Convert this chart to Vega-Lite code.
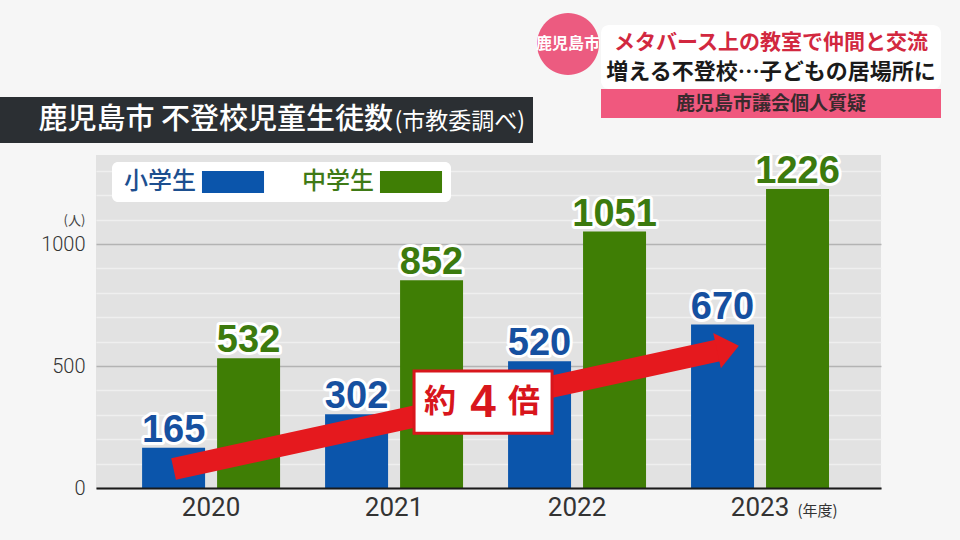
{
  "$schema": "https://vega.github.io/schema/vega-lite/v6.json",
  "background": "#f6f6f6",
  "padding": {"left": 0, "top": 13, "right": 23, "bottom": 22},
  "config": {
    "view": {"stroke": null},
    "font": "Noto Sans CJK JP"
  },
  "spacing": 6,
  "vconcat": [
    {
      "spacing": 2,
      "hconcat": [
        {
          "spacing": 0,
          "vconcat": [
            {"width": 533, "height": 84, "view": {"fill": "#f6f6f6"}, "data": {"values": [{"t": ""}]}, "mark": {"type": "text"}, "encoding": {"text": {"field": "t", "type": "nominal"}}},
            {
              "width": 533, "height": 46, "view": {"fill": "#2b2f33"},
              "data": {"values": [{"main": "鹿児島市 不登校児童生徒数", "sub": "(市教委調べ)"}]},
              "layer": [
                {"mark": {"type": "text", "align": "left", "baseline": "middle", "dx": -228, "fontSize": 29, "fontWeight": 500, "color": "#ffffff"}, "encoding": {"text": {"field": "main", "type": "nominal"}}},
                {"mark": {"type": "text", "align": "left", "baseline": "middle", "dx": 128, "dy": 2, "fontSize": 23, "color": "#ffffff"}, "encoding": {"text": {"field": "sub", "type": "nominal"}}}
              ]
            }
          ]
        },
        {
          "spacing": 0,
          "hconcat": [
            {"width": 62, "height": 62, "view": {"fill": "#ec5b80", "cornerRadius": 31}, "data": {"values": [{"t": "鹿児島市"}]}, "mark": {"type": "text", "fontSize": 16, "fontWeight": "bold", "color": "#ffffff"}, "encoding": {"text": {"field": "t", "type": "nominal"}}},
            {
              "spacing": 0,
              "vconcat": [
                {"width": 340, "height": 12, "view": {"fill": "#f6f6f6"}, "data": {"values": [{"t": ""}]}, "mark": {"type": "text"}, "encoding": {"text": {"field": "t", "type": "nominal"}}},
                {
                  "width": 340, "height": 64, "view": {"fill": "#ffffff", "cornerRadius": 8},
                  "data": {"values": [{"a": "メタバース上の教室で仲間と交流", "b": "増える不登校…子どもの居場所に"}]},
                  "layer": [
                    {"mark": {"type": "text", "baseline": "middle", "dy": -14, "fontSize": 21, "fontWeight": "bold", "color": "#d2283f"}, "encoding": {"text": {"field": "a", "type": "nominal"}}},
                    {"mark": {"type": "text", "baseline": "middle", "dy": 15, "fontSize": 22, "fontWeight": "bold", "color": "#1a1a1a"}, "encoding": {"text": {"field": "b", "type": "nominal"}}}
                  ]
                },
                {"width": 340, "height": 29, "view": {"fill": "#f0587e"}, "data": {"values": [{"t": "鹿児島市議会個人質疑"}]}, "mark": {"type": "text", "baseline": "middle", "fontSize": 19, "fontWeight": "bold", "color": "#3a2a2e"}, "encoding": {"text": {"field": "t", "type": "nominal"}}}
              ]
            }
          ]
        }
      ]
    },
    {
      "spacing": 0,
      "hconcat": [
        {"width": 1, "height": 1, "view": {"fill": "#f6f6f6"}, "data": {"values": [{"t": ""}]}, "mark": {"type": "text"}, "encoding": {"text": {"field": "t", "type": "nominal"}}},
        {
          "width": 785,
          "height": 333,
          "view": {"fill": "#e2e2e2"},
          "encoding": {
            "x": {
              "field": "year", "type": "nominal", "title": "(年度)",
              "scale": {"paddingInner": 0.246, "paddingOuter": 0.268, "align": 0.47},
              "axis": {
                "title": "(年度)", "titleX": 701, "titleY": 22, "titleAlign": "left", "titleBaseline": "middle",
                "titleFontSize": 15, "titleFontWeight": "normal", "titleColor": "#333333",
                "labelAngle": 0, "labelFont": "Roboto", "labelFontSize": 26, "labelColor": "#333333", "labelPadding": 6,
                "ticks": false, "domainColor": "#1a1a1a", "domainWidth": 2, "zindex": 1
              }
            },
            "y": {
              "field": "value", "type": "quantitative", "title": "(人)",
              "scale": {"domain": [0, 1365], "nice": false},
              "axis": {
                "title": "(人)", "titleAngle": 0, "titleX": -22, "titleY": 65, "titleAlign": "center", "titleBaseline": "middle",
                "titleFontSize": 13, "titleFontWeight": "normal", "titleColor": "#444444",
                "values": [0, 100, 200, 300, 400, 500, 600, 700, 800, 900, 1000, 1100, 1200, 1300],
                "format": "d",
                "labelExpr": "datum.value % 500 === 0 ? datum.label : ''",
                "labelFont": "Roboto", "labelFontSize": 20, "labelFontWeight": 300, "labelColor": "#333333", "labelPadding": 11,
                "ticks": false, "domain": false, "grid": true,
                "gridColor": {"condition": {"test": "datum.value % 500 === 0", "value": "#b3b3b3"}, "value": "#efefef"},
                "gridWidth": 1.5,
                "minExtent": 95, "maxExtent": 95
              }
            }
          },
          "layer": [
            {
              "data": {"values": [
                {"year": "2020", "level": "小学生", "value": 165},
                {"year": "2020", "level": "中学生", "value": 532},
                {"year": "2021", "level": "小学生", "value": 302},
                {"year": "2021", "level": "中学生", "value": 852},
                {"year": "2022", "level": "小学生", "value": 520},
                {"year": "2022", "level": "中学生", "value": 1051},
                {"year": "2023", "level": "小学生", "value": 670},
                {"year": "2023", "level": "中学生", "value": 1226}
              ], "name": "main"},
              "mark": {"type": "bar"},
              "encoding": {
                "xOffset": {"field": "level", "type": "nominal", "sort": ["小学生", "中学生"], "scale": {"paddingInner": 0.16, "paddingOuter": 0}},
                "color": {
                  "field": "level", "type": "nominal",
                  "scale": {"domain": ["小学生", "中学生"], "range": ["#0b55ab", "#3f7e05"]},
                  "legend": {
                    "orient": "none", "legendX": 112, "legendY": 149, "direction": "horizontal", "title": null,
                    "fillColor": "#ffffff", "cornerRadius": 6, "padding": 8,
                    "labelFont": "Noto Sans CJK JP", "labelFontSize": 24, "labelFontWeight": 500, "labelLimit": 200,
                    "symbolType": "M-2.82,-1H2.82V1H-2.82Z", "symbolSize": 484, "symbolOffset": 101, "labelOffset": -121,
                    "columnPadding": 33, "symbolStrokeWidth": 0, "symbolOpacity": 1,
                    "encode": {"labels": {"update": {"fill": {"signal": "datum.value === '小学生' ? '#1d4f8f' : '#3f7a16'"}}}}
                  }
                }
              }
            },
            {
              "data": {"values": [{"year": "2020", "value": 78}, {"year": "2023", "value": 568}]},
              "mark": {"type": "line", "strokeWidth": 22, "color": "#e5191e", "strokeCap": "butt"},
              "encoding": {"x": {"field": "year", "type": "nominal", "title": "(年度)", "bandPosition": 0.228}}
            },
            {
              "data": {"values": [{"year": "2023", "value": 568}]},
              "mark": {"type": "point", "shape": "M-0.31,-1L0.93,0L-0.31,1Z", "size": 1296, "angle": -12.35, "filled": true, "color": "#e5191e", "opacity": 1},
              "encoding": {"x": {"field": "year", "type": "nominal", "title": "(年度)", "bandPosition": 0.228}}
            },
            {
              "data": {"values": [{"year": "2021", "value": 352, "a": "約", "b": "4", "c": "倍"}]},
              "encoding": {"x": {"field": "year", "type": "nominal", "title": "(年度)", "bandPosition": 1.145}},
              "layer": [
                {"mark": {"type": "point", "shape": "M-1,-0.45H1V0.45H-1Z", "size": 19044, "fill": "#ffffff", "stroke": "#d8161c", "strokeWidth": 3, "opacity": 1}},
                {"mark": {"type": "text", "dx": -43, "baseline": "middle", "fontSize": 32, "fontWeight": "bold", "color": "#d8161c"}, "encoding": {"text": {"field": "a", "type": "nominal"}}},
                {"mark": {"type": "text", "dx": 0, "dy": 1, "baseline": "middle", "font": "Liberation Sans", "fontSize": 46, "fontWeight": "bold", "color": "#d8161c"}, "encoding": {"text": {"field": "b", "type": "nominal"}}},
                {"mark": {"type": "text", "dx": 41, "baseline": "middle", "fontSize": 32, "fontWeight": "bold", "color": "#d8161c"}, "encoding": {"text": {"field": "c", "type": "nominal"}}}
              ]
            },
            {
              "data": {"name": "main"},
              "encoding": {
                "xOffset": {"field": "level", "type": "nominal", "sort": ["小学生", "中学生"]},
                "text": {"field": "value", "type": "quantitative", "format": "d"}
              },
              "layer": [
                {"mark": {"type": "text", "baseline": "alphabetic", "dy": -6, "font": "Liberation Sans", "fontSize": 38, "fontWeight": "bold", "stroke": "#ffffff", "strokeWidth": 6, "strokeJoin": "round", "fill": "#ffffff"}},
                {
                  "mark": {"type": "text", "baseline": "alphabetic", "dy": -6, "font": "Liberation Sans", "fontSize": 38, "fontWeight": "bold"},
                  "encoding": {"color": {"condition": {"test": "datum.level === '小学生'", "value": "#1650a0"}, "value": "#3c7a0e"}}
                }
              ]
            }
          ]
        }
      ]
    }
  ]
}
